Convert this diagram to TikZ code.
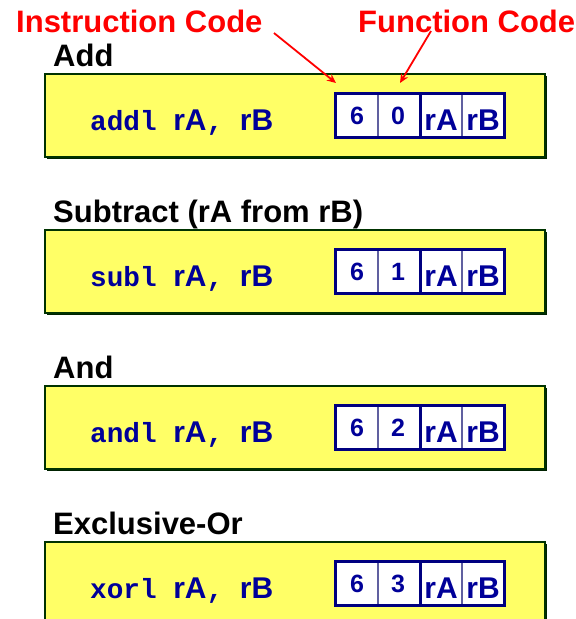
\documentclass[tikz,border=0pt]{standalone}
\usepackage{fontspec}
\setmainfont{Liberation Sans}
\newfontfamily\codefont{Liberation Mono}
\usetikzlibrary{arrows.meta,shadows}

\definecolor{boxyellow}{HTML}{FFFF66}
\definecolor{boxgreen}{HTML}{003300}
\definecolor{shadowgreen}{HTML}{002200}
\definecolor{navytext}{HTML}{000099}
\definecolor{encnavy}{HTML}{000080}
\definecolor{encthin}{HTML}{6060A0}
\definecolor{labelred}{HTML}{FF0000}

\tikzset{
  rowbox/.style={draw=boxgreen, line width=2.2pt, fill=boxyellow, minimum width=500pt,
    minimum height=83pt, inner sep=0pt,
    drop shadow={shadow xshift=2pt, shadow yshift=-2pt, fill=shadowgreen, opacity=1}},
  heading/.style={anchor=base west, inner sep=0pt, text=black,
    font=\fontsize{31}{36}\selectfont\bfseries},
  codetext/.style={anchor=base west, inner sep=0pt, text=navytext},
  cell/.style={draw=encthin, line width=1.2pt, fill=white, minimum width=42pt,
    minimum height=43pt, inner sep=0pt},
  digit/.style={anchor=base, inner sep=0pt, text=navytext,
    font=\fontsize{25}{28}\selectfont\bfseries},
  regname/.style={anchor=base, inner sep=0pt, text=navytext,
    font=\fontsize{30}{33}\selectfont\bfseries},
  redlabel/.style={anchor=base west, inner sep=0pt, text=labelred,
    font=\fontsize{31}{36}\selectfont\bfseries},
  redarrow/.style={draw=labelred, line width=1.8pt, -{Stealth[length=9pt,width=8pt]}},
  encframe/.style={draw=encnavy, line width=2.6pt}
}

\newcommand{\codeline}[1]{%
  {\codefont\fontsize{27.7}{32}\selectfont\bfseries #1 }%
  {\fontsize{30}{34}\selectfont\bfseries rA}%
  {\codefont\fontsize{27.7}{32}\selectfont\bfseries , }%
  {\fontsize{30}{34}\selectfont\bfseries rB}}

\begin{document}
\begin{tikzpicture}[x=1pt,y=-1pt]
  \useasboundingbox (0,0) rectangle (576,619);
  \clip (0,0) rectangle (576,619);

  % one row per instruction: box, heading, assembly text and encoding
  \foreach \i/\op/\fn/\title in {0/addl/0/Add, 1/subl/1/Subtract (rA from rB),
                                 2/andl/2/And, 3/xorl/3/Exclusive-Or} {
    \pgfmathsetmacro{\top}{74+156*\i}
    \node[rowbox] (box\i) at (295,\top+41.5) {};
    \node[heading] (head\i) at (53,\top-8) {\title};
    \node[codetext] (code\i) at (90,\top+56) {\codeline{\op}};
    % encoding cells
    \node[cell] (icode\i) at (357,\top+41.5) {};
    \node[cell] (fcode\i) at (399,\top+41.5) {};
    \node[cell] (ra\i)    at (441,\top+41.5) {};
    \node[cell] (rb\i)    at (483,\top+41.5) {};
    \draw[encframe] (icode\i.north west) rectangle (rb\i.south east);
    \draw[encframe] (fcode\i.north east) -- (fcode\i.south east);
    \node[digit] (icodet\i) at (357,\top+50) {6};
    \node[digit] (fcodet\i) at (398,\top+50) {\fn};
    \node[regname] (rat\i) at (441,\top+56.5) {rA};
    \node[regname] (rbt\i) at (483,\top+56.5) {rB};
  }

  % field labels with pointers into the first encoding
  \node[redlabel] (instr) at (16,32) {Instruction Code};
  \node[redlabel] (func) at (358,32) {Function Code};
  \coordinate (instrtail) at (274,33);
  \coordinate (functail) at (431,31);
  \coordinate (instrtip) at (336,83);
  \coordinate (functip) at (400,83);
  \draw[redarrow] (instrtail) -- (instrtip);
  \draw[redarrow] (functail) -- (functip);
\end{tikzpicture}
\end{document}
